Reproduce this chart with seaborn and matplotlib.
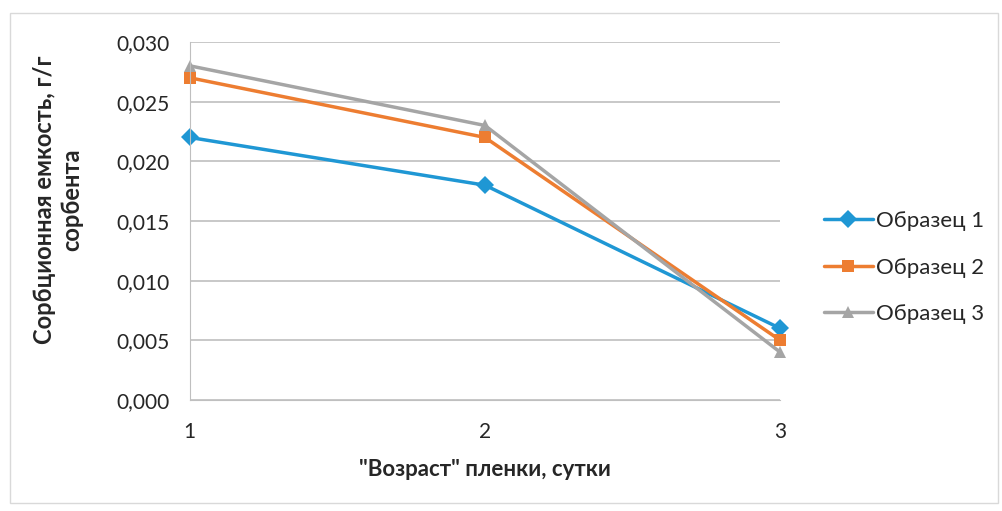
import pandas as pd
import matplotlib.pyplot as plt
import matplotlib.ticker as mticker
import seaborn as sns

# Data
days = [1, 2, 3]
sample1 = [0.022, 0.018, 0.006]
sample2 = [0.027, 0.022, 0.005]
sample3 = [0.028, 0.023, 0.004]
series_names = ["Образец 1", "Образец 2", "Образец 3"]

df = pd.DataFrame({
    "day": days * 3,
    "value": sample1 + sample2 + sample3,
    "series": [n for n in series_names for _ in days],
})

sns.set_style("white")
plt.rcParams['font.family'] = ['Lato', 'DejaVu Sans']

fig = plt.figure(figsize=(10.03, 5.11), dpi=100)
ax = fig.add_axes([0.189, 0.217, 0.589, 0.701])

palette = {"Образец 1": "#1f97d4", "Образец 2": "#ed7d31", "Образец 3": "#a5a5a5"}
markers = {"Образец 1": "D", "Образец 2": "s", "Образец 3": "^"}

sns.lineplot(data=df, x="day", y="value", hue="series", style="series",
             palette=palette, markers=markers, dashes=False, linewidth=2.5,
             markersize=9, markeredgewidth=0, ax=ax)
for line in ax.lines:
    line.set_clip_on(False)

ax.set_xlim(1, 3)
ax.set_ylim(0, 0.030)
ax.set_xticks(days)
ax.set_yticks([0, 0.005, 0.010, 0.015, 0.020, 0.025, 0.030])
ax.yaxis.set_major_formatter(mticker.FuncFormatter(lambda v, p: f"{v:.3f}".replace(".", ",")))
ax.grid(axis="y", color="#bfbfbf", linewidth=1.2)
ax.set_axisbelow(True)
for side in ["top", "right"]:
    ax.spines[side].set_visible(False)
ax.spines["left"].set_color("#bfbfbf")
ax.spines["bottom"].set_color("#bfbfbf")
ax.tick_params(axis="y", labelsize=15, length=0, pad=14)
ax.tick_params(axis="x", labelsize=15, length=0, pad=16)
for lbl in ax.get_xticklabels() + ax.get_yticklabels():
    lbl.set_color("#262626")

ax.set_xlabel('"Возраст" пленки, сутки', fontsize=16, fontweight="bold", labelpad=12)
ax.set_ylabel("Сорбционная емкость, г/г\nсорбента", fontsize=17, fontweight="bold")
ax.yaxis.label.set_multialignment("center")
ax.yaxis.set_label_coords(-0.18, 0.56)

ax.legend(title=None, frameon=False, fontsize=16, loc="center left",
          bbox_to_anchor=(1.04, 0.37), labelspacing=1.2, handlelength=2.2,
          handletextpad=0.15)

fig.patches.append(plt.Rectangle((0.01, 0.015), 0.985, 0.96, transform=fig.transFigure,
                                 fill=False, edgecolor="#d9d9d9", linewidth=1))

fig.savefig("out.png", dpi=100)
